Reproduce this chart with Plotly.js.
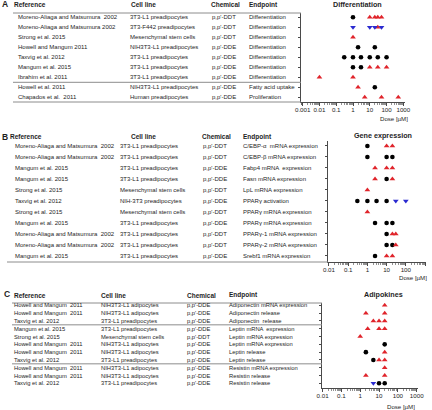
<!DOCTYPE html>
<html><head><meta charset="utf-8">
<script src="https://cdn.plot.ly/plotly-3.0.1.min.js"></script>
<style>html,body{margin:0;padding:0;background:#fff}</style>
</head><body><div id="chart" style="width:432px;height:410px"></div>
<script>
// ---------- Panel A: Differentiation ----------
const aRefs = ["Moreno-Aliaga and Matsumura  2002","Moreno-Aliaga and Matsumura 2002","Strong et al. 2015","Howell and Mangum 2011","Taxvig et al. 2012","Mangum et al. 2015","Ibrahim et al. 2011","Howell et al. 2011","Chapados et al.  2011"];
const aCells = ["3T3-L1 preadipocytes","3T3-F442 preadipocytes","Mesenchymal stem cells","NIH3T3-L1 preadipocytes","3T3-L1 preadipocytes","3T3-L1 preadipocytes","3T3-L1 preadipocytes","NIH3T3-L1 preadipocytes","Human preadipocytes"];
const aChems = ["p,p'-DDT","p,p'-DDT","p,p'-DDT","p,p'-DDE","p,p'-DDE","p,p'-DDE","p,p'-DDE","p,p'-DDE","p,p'-DDE"];
const aEnds = ["Differentiation","Differentiation","Differentiation","Differentiation","Differentiation","Differentiation","Differentiation","Fatty acid uptake","Proliferation"];
const aBlackDose = [1, 2,20, 0.3,1,3,10,30,100, 1,3, 20];
const aBlackRow  = [0, 3,3,  4,4,4,4,4,4,       5,5, 7];
const aRedDose = [10,20,30,50, 30, 1, 10,30,100, 0.01,1, 2, 5,50,500];
const aRedRow  = [0,0,0,0,     1,  2, 5,5,5,     6,6,   7, 8,8,8];
const aBlueDose = [1,10,20,50];
const aBlueRow  = [1,1,1,1];

// ---------- Panel B: Gene expression ----------
const bRefs = ["Moreno-Aliaga and Matsumura  2002","Moreno-Aliaga and Matsumura  2002","Mangum et al. 2015","Mangum et al. 2015","Strong et al. 2015","Taxvig et al. 2012","Strong et al. 2015","Mangum et al. 2015","Moreno-Aliaga and Matsumura  2002","Moreno-Aliaga and Matsumura  2002","Mangum et al. 2015"];
const bCells = ["3T3-L1 preadipocytes","3T3-L1 preadipocytes","3T3-L1 preadipocytes","3T3-L1 preadipocytes","Mesenchymal stem cells","NIH-3T3 preadipocytes","Mesenchymal stem cells","3T3-L1 preadipocytes","3T3-L1 preadipocytes","3T3-L1 preadipocytes","3T3-L1 preadipocytes"];
const bChems = ["p,p'-DDT","p,p'-DDT","p,p'-DDE","p,p'-DDE","p,p'-DDT","p,p'-DDE","p,p'-DDT","p,p'-DDE","p,p'-DDT","p,p'-DDT","p,p'-DDE"];
const bEnds = ["C/EBP-α  mRNA expression","C/EBP-β mRNA expression","Fabp4 mRNA  expression","Fasn mRNA expression","LpL mRNA expression","PPARγ activation","PPARγ mRNA expression","PPARγ mRNA expression","PPARγ-1 mRNA expression","PPARγ-2 mRNA expression","Srebf1 mRNA expression"];
const bBlackDose = [1, 1,10,20, 10, 0.3,1,3,10, 2.5,10,20, 10, 10,20, 2.5];
const bBlackRow  = [0, 1,1,1,   3,  5,5,5,5,    7,7,7,    8,  9,9,   10];
const bRedDose = [10,20, 2.5,10,20, 2.5,20, 1, 1, 20,30, 30, 10,20];
const bRedRow  = [0,0,   2,2,2,     3,3,    4, 6, 8,8,   9,  10,10];
const bBlueDose = [30,100];
const bBlueRow  = [5,5];

// ---------- Panel C: Adipokines ----------
const cRefs = ["Howell and Mangum  2011","Howell and Mangum  2011","Taxvig et al. 2012","Mangum et al. 2015","Strong et al. 2015","Howell and Mangum  2011","Howell and Mangum  2011","Taxvig et al. 2012","Howell and Mangum  2011","Howell and Mangum  2011","Taxvig et al. 2012"];
const cCells = ["NIH3T3-L1 adipocytes","NIH3T3-L1 adipocytes","3T3-L1 preadipocytes","3T3-L1 preadipocytes","Mesenchymal stem cells","NIH3T3-L1 adipocytes","NIH3T3-L1 adipocytes","3T3-L1 preadipocytes","NIH3T3-L1 adipocytes","NIH3T3-L1 adipocytes","3T3-L1 preadipocytes"];
const cChems = ["p,p'-DDE","p,p'-DDE","p,p'-DDE","p,p'-DDE","p,p'-DDT","p,p'-DDE","p,p'-DDE","p,p'-DDE","p,p'-DDE","p,p'-DDE","p,p'-DDE"];
const cEnds = ["Adiponectin mRNA expression","Adiponectin release","Adiponectin  release","Leptin mRNA  expression","Leptin mRNA expression","Leptin mRNA expression","Leptin release","Leptin release","Resistin mRNA expression","Resistin release","Resistin release"];
const cBlackDose = [20, 2, 5, 10,20];
const cBlackRow  = [5,  6, 7, 10,10];
const cRedDose = [20, 2,20, 5,10,20, 2.5,10,20, 1, 20, 10,20, 20, 2,20];
const cRedRow  = [0,  1,1,  2,2,2,   3,3,3,     4, 6,  7,7,   8,  9,9];
const cBlueDose = [5];
const cBlueRow  = [10];

const headers = ["Reference","Cell line","Chemical","Endpoint"];
const panelTitles = ["Differentiation","Gene expression","Adipokines"];
const panelLetters = ["A","B","C"];
const ticksA = [0.001,0.01,0.1,1,10,100,1000];
const ticksA_text = ["0.001","0.01","0.1","1","10","100","1000"];
const ticksBC = [0.01,0.1,1,10,100,1000];
const ticksBC_text = ["0.01","0.1","1","10","100","1000"];
const doseLabel = "Dose [µM]";

// ---------- styling / layout ----------
const W = 432, H = 410;
const fx = p => p / W, fy = p => 1 - p / H;
const FONT = "Liberation Sans, Arial, sans-serif";
const AX = "#4a4a4a", LN = "#8c8c8c", TXT = "#1e1e1e";
const RED = "#e0242b", BLUE = "#2a2ad0";

function xax(d0, d1, r0, r1, anchor, tv, tt) {
  return {domain:[fx(d0), fx(d1)], range:[r0, r1], type:'log', anchor:anchor,
    showline:true, linecolor:AX, linewidth:1, showgrid:false, zeroline:false,
    ticks:'outside', ticklen:3, tickwidth:1, tickcolor:AX, ticklabelstandoff:-1,
    tickvals:tv, ticktext:tt, tickfont:{family:FONT, size:6.2, color:TXT},
    minor:{ticks:'outside', ticklen:1.5, tickwidth:0.6, tickcolor:AX, dtick:'D1', showgrid:false},
    fixedrange:true};
}
function yax(top, bottom, rBottom, rTop, anchor, n) {
  return {domain:[fy(bottom), fy(top)], range:[rBottom, rTop], anchor:anchor,
    showline:true, linecolor:AX, linewidth:1, showgrid:false, zeroline:false,
    ticks:'outside', ticklen:2.5, tickwidth:1, tickcolor:AX,
    tickvals:Array.from({length:n}, (_, i) => i), showticklabels:false, fixedrange:true};
}

function markers(xs, ys, xa, ya, sym, col, size) {
  return {type:'scatter', mode:'markers', x:xs, y:ys, xaxis:xa, yaxis:ya, showlegend:false,
    hoverinfo:'x', marker:{symbol:sym, color:col, size:size, line:{width:0}}};
}

const traces = [
  markers(aBlackDose, aBlackRow, 'x', 'y', 'circle', '#000', 4.6),
  markers(aRedDose, aRedRow, 'x', 'y', 'triangle-up', RED, 5),
  markers(aBlueDose, aBlueRow, 'x', 'y', 'triangle-down', BLUE, 5),
  markers(bBlackDose, bBlackRow, 'x2', 'y2', 'circle', '#000', 4.6),
  markers(bRedDose, bRedRow, 'x2', 'y2', 'triangle-up', RED, 5),
  markers(bBlueDose, bBlueRow, 'x2', 'y2', 'triangle-down', BLUE, 5),
  markers(cBlackDose, cBlackRow, 'x3', 'y3', 'circle', '#000', 4.6),
  markers(cRedDose, cRedRow, 'x3', 'y3', 'triangle-up', RED, 5),
  markers(cBlueDose, cBlueRow, 'x3', 'y3', 'triangle-down', BLUE, 5)
];

const annotations = [];
function txt(x, y, text, yref, size, opts) {
  annotations.push(Object.assign({x:x, y:y, xref:'paper', yref:yref, text:text, showarrow:false,
    xanchor:'left', yanchor:'middle', font:{family:FONT, size:size, color:TXT}, borderpad:0}, opts || {}));
}
function table(rowCols, rows, yref, size) {
  rows.forEach((arr, k) => arr.forEach((t, i) => txt(fx(rowCols[k]), i, t, yref, size)));
}
// panel A
headers.forEach((h, k) => txt(fx([13, 130, 210, 248][k]), fy(4.5), "<b>" + h + "</b>", 'paper', 6.5));
table([16.5, 129, 211, 248], [aRefs, aCells, aChems, aEnds], 'y', 6);
// panel B
headers.forEach((h, k) => txt(fx([9, 130, 201, 242][k]), fy(136.5), "<b>" + h + "</b>", 'paper', 6.5));
table([14, 119, 202, 242], [bRefs, bCells, bChems, bEnds], 'y2', 6);
// panel C
headers.forEach((h, k) => txt(fx([12.5, 100, 185.5, 228][k]), fy(295), "<b>" + h + "</b>", 'paper', 6.5));
table([12.5, 100, 185.5, 228], [cRefs, cCells, cChems, cEnds], 'y3', 5.8);

// panel letters, titles, dose labels
[[0.5, 4], [0.5, 136.5], [2.5, 294]].forEach((p, k) =>
  txt(fx(p[0]), fy(p[1]), "<b>" + panelLetters[k] + "</b>", 'paper', 8.5));
[[357, 4], [383, 135], [383, 294]].forEach((p, k) =>
  txt(fx(p[0]), fy(p[1]), "<b>" + panelTitles[k] + "</b>", 'paper', 7.2, {xanchor:'center'}));
[[394, 118.5], [413, 277.5], [401, 406.3]].forEach(p =>
  txt(fx(p[0]), fy(p[1]), doseLabel, 'paper', 6.1, {xanchor:'center'}));

const hline = (x0, x1, y, yref) => ({type:'line', xref:'paper', yref:yref, x0:fx(x0), x1:fx(x1), y0:y, y1:y,
  line:{color:LN, width:1}});
const shapes = [
  hline(13, 301, fy(13), 'paper'),
  hline(13, 301, 6.5, 'y'),
  hline(13, 301, fy(102), 'paper'),
  hline(7, 328, fy(262), 'paper'),
  hline(12, 322, fy(303), 'paper'),
  hline(12, 322, 2.5, 'y3'),
  hline(12, 322, 7.5, 'y3')
];

const layout = {
  width:W, height:H, autosize:false, margin:{l:0, r:0, t:0, b:0, pad:0},
  paper_bgcolor:'#fff', plot_bgcolor:'rgba(0,0,0,0)', showlegend:false,
  font:{family:FONT, size:6, color:TXT},
  xaxis: xax(301, 405, -3.1, 3.1, 'y', ticksA, ticksA_text),
  yaxis: yax(13, 102, 8.47, -0.43, 'x', aRefs.length),
  xaxis2: xax(328, 426, -2.05, 3.05, 'y2', ticksBC, ticksBC_text),
  yaxis2: yax(141, 262, 10.55, -0.45, 'x2', bRefs.length),
  xaxis3: xax(322, 418, -2.03, 3.07, 'y3', ticksBC, ticksBC_text),
  yaxis3: yax(303, 388, 10.6, -0.3, 'x3', cRefs.length),
  annotations: annotations, shapes: shapes
};
Plotly.newPlot('chart', traces, layout, {staticPlot:true, displayModeBar:false});
</script></body></html>
